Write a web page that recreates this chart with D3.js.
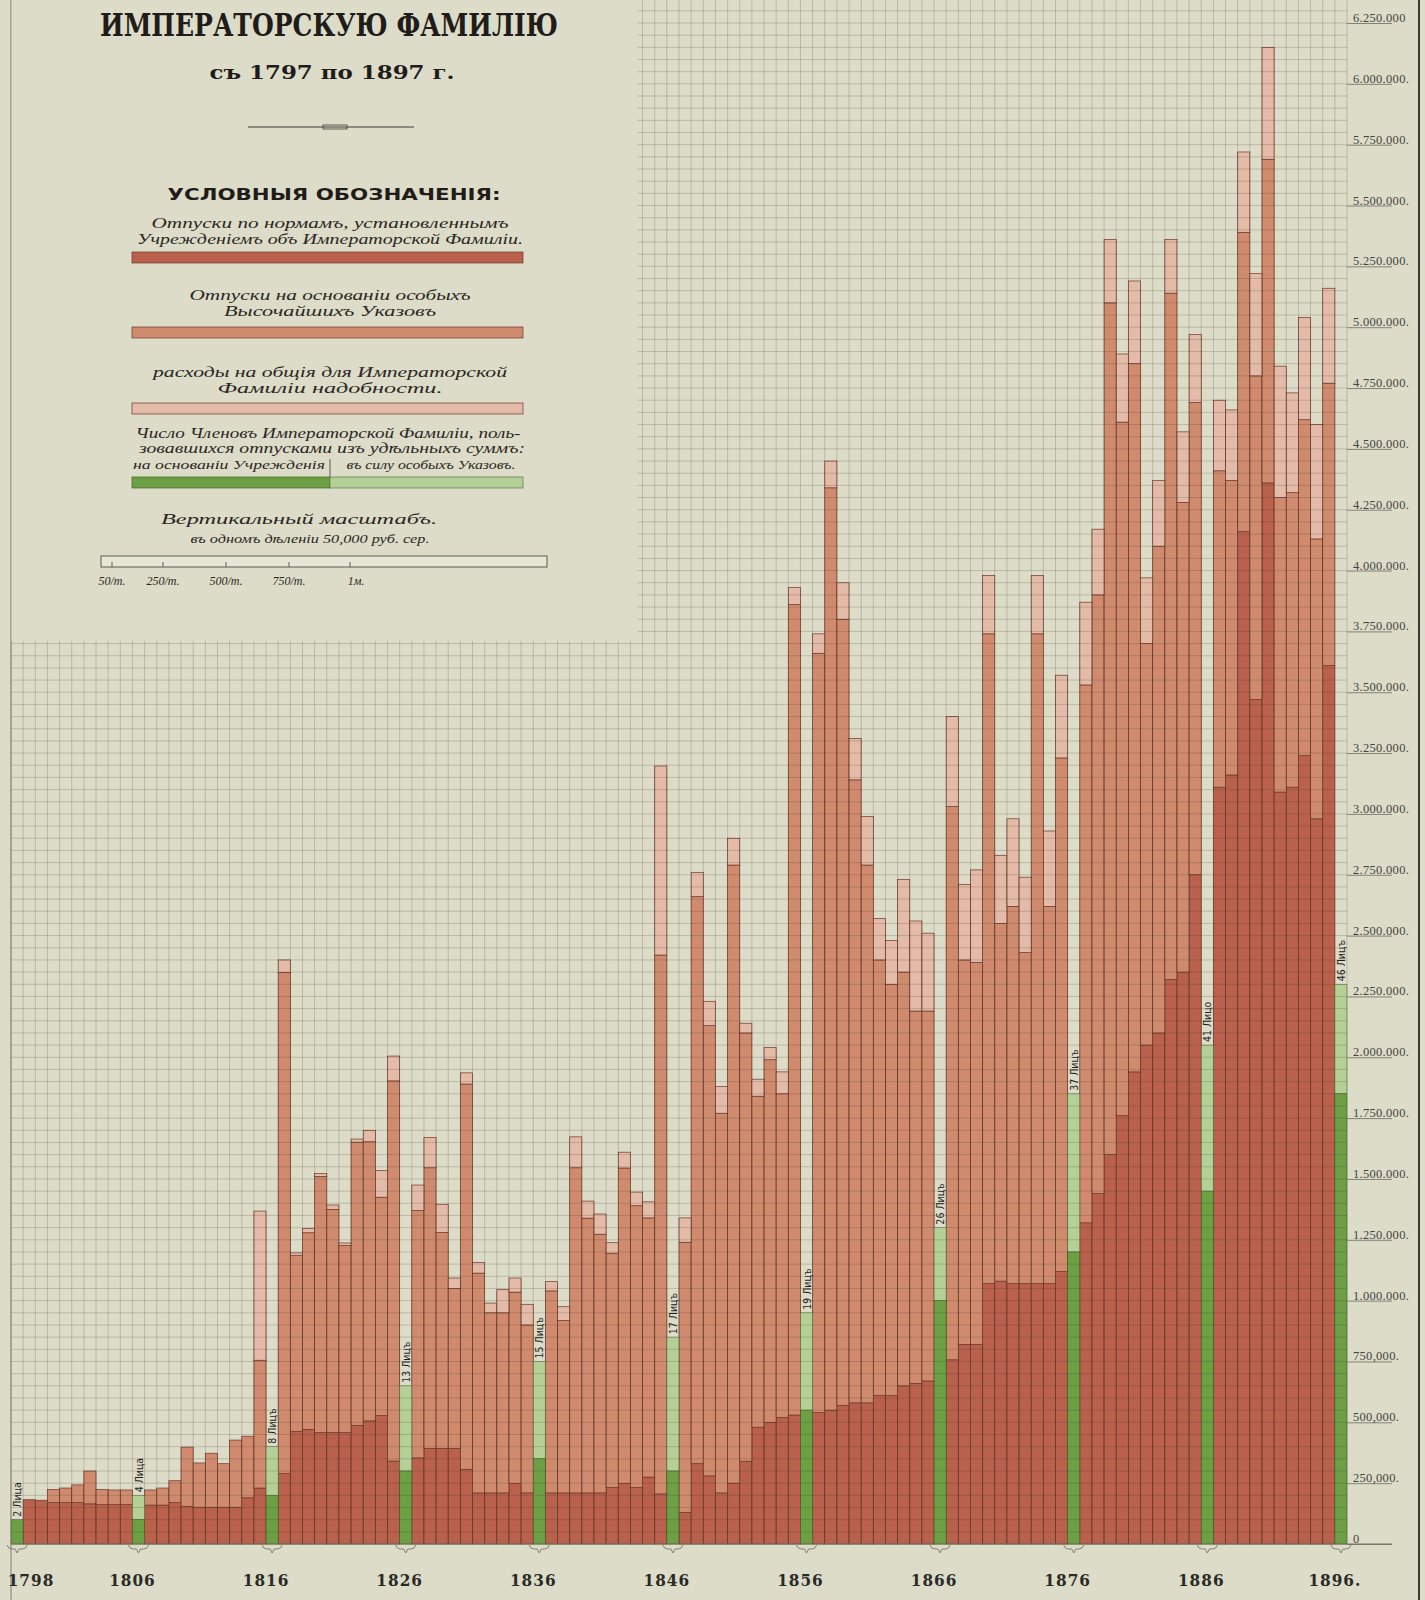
<!DOCTYPE html>
<html>
<head>
<meta charset="utf-8">
<script src="https://cdn.jsdelivr.net/npm/d3@7"></script>
<style>
  html, body { margin: 0; padding: 0; background: #dbdbc8; }
  svg { display: block; }
</style>
</head>
<body>
<div id="chart"></div>
<script>
// years of the bars, 1798 .. 1896
var years = d3.range(1798, 1897);

// thousand roubles: by the norms of the Uchrezhdenie (bottom, dark)
var norms = [
  182, 180, 170, 170, 170, 165, 162, 162, 162,
  160, 160, 170, 155, 151, 151, 151, 151, 190, 230,
  289, 463, 471, 458, 458, 458, 487, 506, 528, 341,
  354, 393, 393, 393, 307, 210, 210, 210, 249, 210,
  210, 210, 210, 210, 210, 232, 249, 232, 275, 206,
  130, 330, 280, 210, 250, 340, 480, 500, 520, 530,
  540, 550, 570, 580, 580, 610, 610, 650, 660, 670,
  757, 820, 820, 1070, 1080, 1070, 1070, 1070, 1070, 1120,
  1320, 1440, 1600, 1760, 1940, 2050, 2100, 2320, 2350, 2750,
  3110, 3160, 4160, 3470, 4360, 3090, 3110, 3240, 2980, 3610
];
// thousand roubles: by special Imperial decrees (middle)
var decrees = [
  0, 0, 54, 60, 73, 135, 62, 60, 60,
  62, 70, 90, 243, 182, 222, 179, 276, 253, 525,
  2060, 722, 808, 1052, 917, 768, 1164, 1147, 897, 1562,
  1016, 1153, 887, 657, 1583, 903, 740, 740, 786, 690,
  830, 708, 1336, 1129, 1063, 963, 1296, 1158, 1065, 2214,
  1110, 2330, 1850, 1560, 2540, 1760, 1360, 1490, 1330, 3330,
  3120, 3790, 3230, 2560, 2210, 1790, 1690, 1700, 1530, 1520,
  2273, 1580, 1570, 2670, 1470, 1550, 1360, 2670, 1550, 2110,
  2210, 2460, 3500, 2850, 2910, 1650, 2000, 2820, 1930, 1940,
  1300, 1210, 1230, 1330, 1330, 1210, 1210, 1380, 1150, 1160
];
// thousand roubles: common needs of the Imperial Family (top, light)
var general = [
  0, 0, 0, 0, 0, 0, 0, 0, 0,
  0, 0, 0, 0, 0, 0, 0, 0, 0, 613,
  51, 11, 17, 13, 18, 11, 13, 47, 109, 102,
  105, 124, 116, 43, 46, 43, 40, 95, 58, 85,
  38, 57, 127, 70, 83, 43, 65, 56, 66, 777,
  100, 100, 100, 110, 110, 40, 70, 50, 90, 70,
  80, 110, 150, 170, 200, 170, 180, 380, 370, 320,
  370, 310, 380, 240, 280, 360, 310, 240, 310, 340,
  340, 270, 260, 280, 340, 270, 270, 220, 290, 280,
  290, 290, 330, 420, 460, 540, 410, 420, 470, 390
];

// members of the Imperial Family (green columns)
var greenYears = [1798, 1806, 1816, 1826, 1836, 1846, 1856, 1866, 1876, 1886, 1896];
var personsByLaw = [2, 2, 4, 6, 7, 6, 11, 20, 24, 29, 37];
var personsByDecree = [0, 2, 4, 7, 8, 11, 8, 6, 13, 12, 9];
var personWords = ["Лица", "Лица", "Лицъ", "Лицъ", "Лицъ", "Лицъ", "Лицъ", "Лицъ", "Лицъ", "Лицо", "Лицъ"];

var yTicks = d3.range(0, 6250001, 250000);
var yTickLabels = ["0", "250,000.", "500,000.", "750,000.", "1.000.000.", "1.250.000.", "1.500.000.",
  "1.750.000.", "2.000.000.", "2.250.000.", "2.500.000.", "2.750.000.", "3.000.000.", "3.250.000.",
  "3.500.000.", "3.750.000.", "4.000.000.", "4.250.000.", "4.500.000.", "4.750.000.", "5.000.000.",
  "5.250.000.", "5.500.000.", "5.750.000.", "6.000.000.", "6.250.000"];
var xYearLabels = ["1798", "1806", "1816", "1826", "1836", "1846", "1856", "1866", "1876", "1886", "1896."];

var W = 1425, H = 1600;
var colors = {
  paper: "#dcdcc9",
  norms: "#b9614d",
  decrees: "#d08b6f",
  general: "#e4bba8",
  greenDark: "#6d9f44",
  greenLight: "#b4d096",
  outline: "#6e3727"
};

var svg = d3.select("#chart").append("svg")
  .attr("width", W)
  .attr("height", H)
  .style("font-family", "'DejaVu Serif', serif");

svg.append("rect").attr("width", W).attr("height", H).attr("fill", colors.paper);

// slots: a green column, then the year bars, a green column after every marked year
var slots = [{ type: "g", year: greenYears[0], key: "g" + greenYears[0] }];
years.forEach(function(yr) {
  slots.push({ type: "b", year: yr, key: "b" + yr });
  if (greenYears.indexOf(yr) > 0) {
    slots.push({ type: "g", year: yr, key: "g" + yr });
  }
});

var x = d3.scaleBand()
  .domain(slots.map(function(s) { return s.key; }))
  .range([11, 1347])
  .padding(0);
var y = d3.scaleLinear().domain([0, 6250000]).range([1544, 23]);
// one person per grid division (50,000)
var yPersons = d3.scaleLinear().domain([0, 125]).range([1544, 23]);

var rows = years.map(function(yr, i) {
  return { key: "b" + yr, norms: norms[i] * 1000, decrees: decrees[i] * 1000, general: general[i] * 1000 };
});
var stack = d3.stack().keys(["norms", "decrees", "general"]);
var series = stack(rows);

// bars
var gBars = svg.append("g");
series.forEach(function(s) {
  gBars.selectAll(".bar-" + s.key)
    .data(s.filter(function(d) { return d[1] > d[0]; })).enter()
    .append("rect")
      .attr("class", "bar-" + s.key)
      .attr("x", function(d) { return x(d.data.key); })
      .attr("y", function(d) { return y(d[1]); })
      .attr("width", x.bandwidth())
      .attr("height", function(d) { return y(d[0]) - y(d[1]); })
      .attr("fill", colors[s.key])
      .attr("stroke", colors.outline)
      .attr("stroke-width", 0.7);
});

// green columns
var greens = greenYears.map(function(yr, i) {
  return { key: "g" + yr, law: personsByLaw[i], decree: personsByDecree[i], word: personWords[i] };
});
var gGreen = svg.append("g");
gGreen.selectAll(".gl").data(greens).enter().append("rect")
  .attr("x", function(d) { return x(d.key); })
  .attr("y", function(d) { return yPersons(d.law + d.decree); })
  .attr("width", x.bandwidth())
  .attr("height", function(d) { return yPersons(d.law) - yPersons(d.law + d.decree); })
  .attr("fill", colors.greenLight)
  .attr("stroke", "#5d7a45").attr("stroke-width", 0.5);
gGreen.selectAll(".gd").data(greens).enter().append("rect")
  .attr("x", function(d) { return x(d.key); })
  .attr("y", function(d) { return yPersons(d.law); })
  .attr("width", x.bandwidth())
  .attr("height", function(d) { return yPersons(0) - yPersons(d.law); })
  .attr("fill", colors.greenDark)
  .attr("stroke", "#3f6a26").attr("stroke-width", 0.5);

// grid over everything, one division = 50,000
var gGrid = svg.append("g")
  .attr("stroke", "rgba(60,55,35,0.26)")
  .attr("stroke-width", 0.8);
var xEdges = x.domain().map(function(k) { return x(k); }).concat([x.range()[1]]);
gGrid.selectAll(".vg").data(xEdges).enter().append("line")
  .attr("x1", function(d) { return d; }).attr("x2", function(d) { return d; })
  .attr("y1", 0).attr("y2", y(0));
var hVals = d3.range(0, 6500001, 50000).filter(function(v) { return y(v) >= 0; });
gGrid.selectAll(".hg").data(hVals).enter().append("line")
  .attr("x1", x.range()[0]).attr("x2", x.range()[1])
  .attr("y1", function(v) { return y(v); }).attr("y2", function(v) { return y(v); });

// labels on the green columns
svg.append("g").selectAll("text").data(greens).enter().append("text")
  .attr("transform", function(d) {
    return "translate(" + (x(d.key) + x.bandwidth() / 2 + 4) + "," + (yPersons(d.law + d.decree) - 3) + ") rotate(-90)";
  })
  .attr("font-family", "'DejaVu Sans Condensed', 'DejaVu Sans', sans-serif")
  .attr("font-size", 10.5)
  .attr("fill", "#1e1e1e")
  .text(function(d) { return (d.law + d.decree) + " " + d.word; });

// frame lines
svg.append("line").attr("x1", 11).attr("x2", 11).attr("y1", 0).attr("y2", H)
  .attr("stroke", "#7c7c70").attr("stroke-width", 1);
svg.append("line").attr("x1", 1419).attr("x2", 1419).attr("y1", 0).attr("y2", H)
  .attr("stroke", "#3a3a34").attr("stroke-width", 2);
svg.append("line").attr("x1", 11).attr("x2", 1392).attr("y1", y(0)).attr("y2", y(0))
  .attr("stroke", "#77776a").attr("stroke-width", 1);

// y axis on the right
var gY = svg.append("g");
gY.selectAll("line").data(yTicks).enter().append("line")
  .attr("x1", 1347).attr("x2", 1392)
  .attr("y1", function(v) { return y(v) + 0.5; }).attr("y2", function(v) { return y(v) + 0.5; })
  .attr("stroke", "#6c6c60").attr("stroke-width", 0.8);
gY.selectAll("text").data(yTicks).enter().append("text")
  .attr("x", 1353)
  .attr("y", function(v) { return y(v) - 1; })
  .attr("font-family", "'Liberation Serif', serif")
  .attr("font-size", 12.5)
  .attr("letter-spacing", 0.3)
  .attr("fill", "#45453f")
  .text(function(v, i) { return yTickLabels[i]; });

// year labels with braces
var gX = svg.append("g");
greens.forEach(function(d, i) {
  var x0 = x(d.key), x1 = x0 + x.bandwidth(), cx = (x0 + x1) / 2, b = y(0) + 1;
  var p = d3.path();
  p.moveTo(x0 - 4, b);
  p.quadraticCurveTo(x0 - 3, b + 4, x0 + 1, b + 4);
  p.lineTo(cx - 2, b + 4);
  p.lineTo(cx, b + 8);
  p.lineTo(cx + 2, b + 4);
  p.lineTo(x1 - 1, b + 4);
  p.quadraticCurveTo(x1 + 3, b + 4, x1 + 4, b);
  gX.append("path").attr("d", p.toString())
    .attr("fill", "none").attr("stroke", "#77776a").attr("stroke-width", 0.9);
  gX.append("text")
    .attr("x", Math.max(x0, 31))
    .attr("y", 1586)
    .attr("text-anchor", "middle")
    .attr("font-family", "'DejaVu Serif Condensed', 'DejaVu Serif', serif")
    .attr("font-weight", "bold")
    .attr("font-size", 17)
    .attr("letter-spacing", 1)
    .attr("fill", "#2a2a26")
    .text(xYearLabels[i]);
});

// title and legend panel (no grid there)
var panel = svg.append("g");
panel.append("rect").attr("x", 11.5).attr("y", 0).attr("width", 626).attr("height", 641)
  .attr("fill", colors.paper);

function ptext(str, cx, by, size, len, opts) {
  opts = opts || {};
  var t = panel.append("text")
    .attr("x", cx).attr("y", by)
    .attr("text-anchor", opts.anchor || "middle")
    .attr("font-size", size)
    .attr("fill", opts.fill || "#2b2622")
    .attr("font-family", opts.family || "'Liberation Serif', serif")
    .attr("font-style", opts.italic ? "italic" : null)
    .attr("font-weight", opts.bold ? "bold" : null)
    .text(str);
  if (len) { t.attr("textLength", len).attr("lengthAdjust", "spacingAndGlyphs"); }
  return t;
}

ptext("ИМПЕРАТОРСКУЮ ФАМИЛІЮ", 329, 36, 31, 458, { bold: true, family: "'DejaVu Serif Condensed', 'DejaVu Serif', serif", fill: "#1f1c1a" });
ptext("съ 1797 по 1897 г.", 332, 79, 19, 245, { bold: true, family: "'DejaVu Serif', serif", fill: "#1f1c1a" });
panel.append("line").attr("x1", 248).attr("x2", 414).attr("y1", 127).attr("y2", 127)
  .attr("stroke", "#3a3a34").attr("stroke-width", 1);
panel.append("rect").attr("x", 323).attr("y", 125).attr("width", 24).attr("height", 4)
  .attr("fill", "none").attr("stroke", "#3a3a34").attr("stroke-width", 0.8);

ptext("УСЛОВНЫЯ ОБОЗНАЧЕНІЯ:", 334, 200, 16, 333, { bold: true, family: "'DejaVu Sans', sans-serif", fill: "#1f1c1a" });

var legendKeys = [
  { lines: ["Отпуски по нормамъ, установленнымъ", "Учрежденіемъ объ Императорской Фамиліи."], lens: [357, 386], base: 228, bar: 252, color: colors.norms },
  { lines: ["Отпуски на основаніи особыхъ", "Высочайшихъ Указовъ"], lens: [281, 212], base: 300, bar: 327, color: colors.decrees },
  { lines: ["расходы на общія для Императорской", "Фамиліи надобности."], lens: [354, 225], base: 377, bar: 403, color: colors.general }
];
legendKeys.forEach(function(k) {
  k.lines.forEach(function(l, j) {
    ptext(l, 330, k.base + j * 15.5, 15, k.lens[j], { italic: true });
  });
  panel.append("rect").attr("x", 132).attr("y", k.bar).attr("width", 391).attr("height", 11)
    .attr("fill", k.color).attr("stroke", colors.outline).attr("stroke-width", 0.7);
});

ptext("Число Членовъ Императорской Фамиліи, поль-", 328, 438, 14, 385, { italic: true });
ptext("зовавшихся отпусками изъ удѣльныхъ суммъ:", 332, 453, 14, 386, { italic: true });
ptext("на основаніи Учрежденія", 229, 469, 13, 192, { italic: true });
ptext("въ силу особыхъ Указовъ.", 431, 469, 13, 169, { italic: true });
panel.append("line").attr("x1", 330).attr("x2", 330).attr("y1", 459).attr("y2", 477)
  .attr("stroke", "#3a3a34").attr("stroke-width", 0.8);
panel.append("rect").attr("x", 132).attr("y", 477).attr("width", 198).attr("height", 11)
  .attr("fill", colors.greenDark).attr("stroke", "#3f6a26").attr("stroke-width", 0.7);
panel.append("rect").attr("x", 330).attr("y", 477).attr("width", 193).attr("height", 11)
  .attr("fill", colors.greenLight).attr("stroke", "#5d7a45").attr("stroke-width", 0.7);

ptext("Вертикальный   масштабъ.", 299, 524, 15, 276, { italic: true });
ptext("въ одномъ дѣленіи 50,000 руб. сер.", 310, 543, 12, 239, { italic: true });
panel.append("rect").attr("x", 101).attr("y", 556).attr("width", 446).attr("height", 11)
  .attr("fill", "#e6e6d6").attr("stroke", "#3a3a34").attr("stroke-width", 0.8);
var scaleTicks = [112, 163, 226, 289, 350];
var scaleLabels = ["50/т.", "250/т.", "500/т.", "750/т.", "1м."];
scaleTicks.forEach(function(t, i) {
  panel.append("line").attr("x1", t).attr("x2", t).attr("y1", 562).attr("y2", 567)
    .attr("stroke", "#3a3a34").attr("stroke-width", 0.8);
  ptext(scaleLabels[i], t + (i === 4 ? 6 : 0), 585, 12, null, { italic: true });
});
</script>
</body>
</html>
